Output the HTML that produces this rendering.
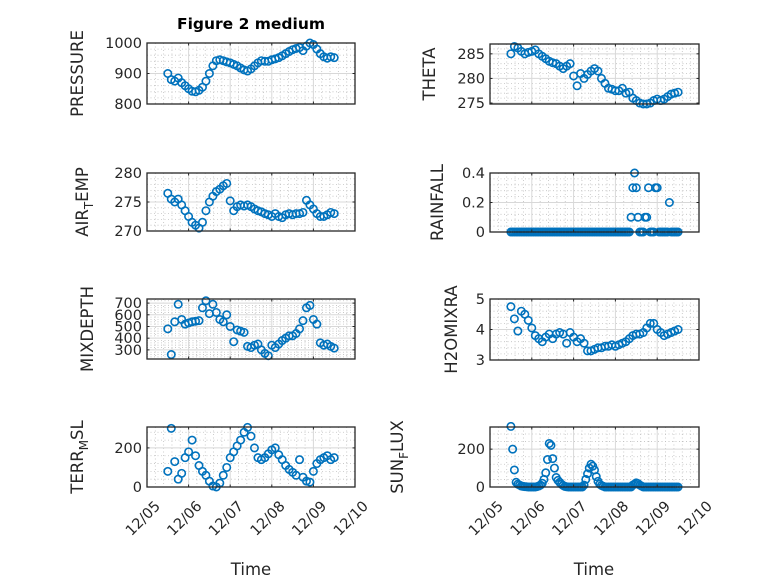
<!DOCTYPE html>
<html><head><meta charset="utf-8">
<style>
html,body{margin:0;padding:0;background:#fff;}
svg{display:block;font-family:"DejaVu Sans","Liberation Sans",sans-serif;}
</style></head>
<body>
<svg id="fig" width="778" height="583" viewBox="0 0 778 583" xmlns="http://www.w3.org/2000/svg">
<rect width="778" height="583" fill="#fff"/>
<text x="251" y="29" text-anchor="middle" font-size="15.5" font-weight="bold" fill="#000">Figure 2 medium</text>
<text x="251" y="575" text-anchor="middle" font-size="16.5" fill="#262626">Time</text>
<text x="594" y="575" text-anchor="middle" font-size="16.5" fill="#262626">Time</text>
</svg>
<script>
// time axis: 2-hour grid from 12/05 12:00 (day 5.5)
const gridStart = 5.5;
const gridStepDays = 1/12;
const hourlyStepDays = 1/24;
const xTickLabels = ["12/05","12/06","12/07","12/08","12/09","12/10"];
const xTickDays = [5,6,7,8,9,10];

const pressure = [900,880,875,885,870,860, 850,842,840,845,855,875,900,925,942,945,942,938, 935,930,925,918,912,908,915,925,935,942,940,940, 945,948,952,958,965,972,978,982,985,975,990,1000, 995,980,965,955,950,955, 952];
const airTemp = [276.5,275.5,275,275.5,274.5,273.5, 272.5,271.5,271,270.5,271.5,273.5,275,276,276.8,277.2,277.8,278.2, 275.2,273.5,274.2,274.5,274.3,274.5,274.2,273.8,273.5,273.3,273,272.8, 272.5,273,272.5,272.3,272.8,273,272.8,273,273,273.2,275.3,274.5, 273.8,273,272.5,272.5,272.8,273.2, 273];
const mixDepth = [480,260,540,690,560,520, 530,540,545,550,660,720,610,690,620,560,540,600, 500,370,470,460,450,330,320,340,350,300,270,250, 340,320,350,380,400,420,420,440,480,550,660,680, 560,520,360,340,350,330, 315];
const terrMsl = [80,300,130,40,70,150, 180,240,160,110,80,60,30,5,0,20,60,100, 150,180,210,240,280,305,260,200,150,140,150,170, 190,200,165,140,110,90,75,60,140,50,30,25, 80,120,140,150,160,140, 150];
const theta = [285,286.5,286.2,285.5,285,285.3, 285.5,285.8,285,284.5,284,283.5,283.2,283,282.5,282,282.5,283, 280.5,278.5,281,280,280.8,281.5,282,281.5,280,279,278,277.8, 277.5,277.5,278,277,277.2,276,275.5,275,274.8,274.8,275,275.5, 275.8,275.5,275.8,276.3,276.8,277, 277.2];
const h2o = [4.75,4.35,3.95,4.6,4.5,4.3, 4.05,3.8,3.7,3.6,3.75,3.85,3.7,3.85,3.9,3.85,3.55,3.9, 3.75,3.6,3.7,3.55,3.3,3.3,3.35,3.4,3.4,3.45,3.45,3.5, 3.45,3.5,3.55,3.6,3.7,3.8,3.85,3.85,3.9,4.05,4.2,4.2, 4.0,3.9,3.8,3.85,3.9,3.95, 4.0];
// hourly series
const rainfall = [0,0,0,0,0,0,0,0,0,0, 0,0,0,0,0,0,0,0,0,0, 0,0,0,0,0,0,0,0,0,0, 0,0,0,0,0,0,0,0,0,0, 0,0,0,0,0,0,0,0,0,0, 0,0,0,0,0,0,0,0,0,0, 0,0,0,0,0,0,0,0,0, 0.1,0.3,0.4,0.3,0.1,0,0,0,0.1,0.1,0.3,0,0,0,0.3,0.3,0,0,0,0,0,0,0.2,0,0,0,0,0];
const sunFlux = [320,200,90,25,15,10, 5,3,2,1,0,0, 0,0,0,2,5,10, 20,40,75,145,230,220, 150,100,50,35,25,15, 8,3,1,0,0,0, 0,0,0,0,0,0, 10,40,70,100,120,110, 90,55,30,15,8,4, 0,0,0,0,0,0,0,0,0,0,0,0, 0,0,0,0,10,15,22,18,10,5,0,0, 0,0,0,0,0,0,0,0,0,0,0,0,0,0,0,0,0,0,0];

const pressureTicks = [800,900,1000];
const airTicks = [270,275,280];
const mixTicks = [300,400,500,600,700];
const terrTicks = [0,200];
const thetaTicks = [275,280,285];
const rainTicks = [0,0.2,0.4];
const rainTickLabels = ["0","0.2","0.4"];
const h2oTicks = [3,4,5];
const sunTicks = [0,200];

const NS = "http://www.w3.org/2000/svg";
const svg = document.getElementById('fig');
function mk(tag, attrs, parent){
  const e = document.createElementNS(NS, tag);
  for (const k in attrs) e.setAttribute(k, attrs[k]);
  (parent||svg).appendChild(e);
  return e;
}

function panel(cfg){
  const {name,x0,x1,y0,y1,ymin,ymax,ticks,tickLabels,vals,step,bottom,labelX,label} = cfg;
  const g = mk('g',{});
  
  
  const xs = d => x0 + (d-5)/(10-5)*(x1-x0);
  const ys = v => y1 - (v-ymin)/(ymax-ymin)*(y1-y0);
  mk('rect',{x:x0,y:y0,width:x1-x0,height:y1-y0,fill:'#fff'},g);
  for (let d=5; d<10; d++){
    for (let m=1;m<5;m++){
      const x = xs(d+m/5);
      mk('line',{x1:x,x2:x,y1:y0,y2:y1,stroke:'#c0c0c0','stroke-width':0.8,'stroke-dasharray':'1 2.5'},g);
    }
  }
  const tstep = ticks.length>1 ? ticks[1]-ticks[0] : 100;
  const first = ticks[0] - tstep;
  for (let t=first; t<=ymax+1e-9; t+=tstep){
    for (let m=1;m<5;m++){
      const v = t + m*tstep/5;
      if (v<=ymin || v>=ymax) continue;
      const y = ys(v);
      mk('line',{x1:x0,x2:x1,y1:y,y2:y,stroke:'#c0c0c0','stroke-width':0.8,'stroke-dasharray':'1 2.5'},g);
    }
  }
  xTickDays.forEach(d=>{
    const x = xs(d);
    mk('line',{x1:x,x2:x,y1:y0,y2:y1,stroke:'#d8d8d8','stroke-width':1},g);
  });
  ticks.forEach((t,i)=>{
    const y = ys(t);
    mk('line',{x1:x0,x2:x1,y1:y,y2:y,stroke:'#d8d8d8','stroke-width':1},g);
    const tl = mk('text',{x:x0-5,y:y+5,'text-anchor':'end','font-size':14.5,fill:'#262626'},g);
    tl.textContent = tickLabels ? tickLabels[i] : String(t);
    
    
  });
  const clipId = name+'-clip';
  const cp = mk('clipPath',{id:clipId},g);
  mk('rect',{x:x0-5,y:y0-5,width:x1-x0+10,height:y1-y0+10},cp);
  const mg = mk('g',{'clip-path':'url(#'+clipId+')'},g);
  vals.forEach((v,i)=>{
    const d = gridStart + i*step;
    const c = mk('circle',{cx:xs(d),cy:ys(v),r:3.7,fill:'none',stroke:'#0072BD','stroke-width':1.6},mg);
    
    
  });
  mk('rect',{x:x0,y:y0,width:x1-x0,height:y1-y0,fill:'none',stroke:'#262626','stroke-width':1.3},g);
  xTickDays.forEach(d=>{
    const x = xs(d);
    mk('line',{x1:x,x2:x,y1:y1,y2:y1-2.5,stroke:'#262626','stroke-width':1},g);
    mk('line',{x1:x,x2:x,y1:y0,y2:y0+2.5,stroke:'#262626','stroke-width':1},g);
  });
  ticks.forEach(t=>{
    const y = ys(t);
    mk('line',{x1:x0,x2:x0+2.5,y1:y,y2:y,stroke:'#262626','stroke-width':1},g);
    mk('line',{x1:x1,x2:x1-2.5,y1:y,y2:y,stroke:'#262626','stroke-width':1},g);
  });
  if (bottom){
    xTickDays.forEach((d,i)=>{
      const x = xs(d)+14, y = y1+20;
      const t = mk('text',{x:x,y:y,'text-anchor':'end','font-size':14.5,fill:'#262626',transform:'rotate(-45 '+x+' '+y+')'},g);
      t.textContent = xTickLabels[i];
      
      
    });
  }
  const cy = (y0+y1)/2;
  const yl = mk('text',{x:labelX,y:cy,'text-anchor':'middle','font-size':16.5,fill:'#262626',transform:'rotate(-90 '+labelX+' '+cy+')'},g);
  
  
  label.forEach(part=>{
    const ts = document.createElementNS(NS,'tspan');
    ts.textContent = part.t;
    if (part.sub){ ts.setAttribute('dy','5'); ts.setAttribute('font-size','12'); }
    else if (part.after){ ts.setAttribute('dy','-5'); }
    yl.appendChild(ts);
  });
}

const L0=147, L1=355, R0=490, R1=699;
panel({name:'pressure',x0:L0,x1:L1,y0:43,y1:104,ymin:800,ymax:1000,ticks:pressureTicks,vals:pressure,step:gridStepDays,labelX:83,label:[{t:'PRESSURE'}]});
panel({name:'air-temp',x0:L0,x1:L1,y0:173,y1:231,ymin:270,ymax:280,ticks:airTicks,vals:airTemp,step:gridStepDays,labelX:88,label:[{t:'AIR'},{t:'T',sub:true},{t:'EMP',after:true}]});
panel({name:'mixdepth',x0:L0,x1:L1,y0:299,y1:359,ymin:222,ymax:735,ticks:mixTicks,vals:mixDepth,step:gridStepDays,labelX:93,label:[{t:'MIXDEPTH'}]});
panel({name:'terr-msl',x0:L0,x1:L1,y0:427,y1:487,ymin:0,ymax:307,ticks:terrTicks,vals:terrMsl,step:gridStepDays,bottom:true,labelX:83,label:[{t:'TERR'},{t:'M',sub:true},{t:'SL',after:true}]});
panel({name:'theta',x0:R0,x1:R1,y0:44,y1:104,ymin:274.8,ymax:287,ticks:thetaTicks,vals:theta,step:gridStepDays,labelX:435,label:[{t:'THETA'}]});
panel({name:'rainfall',x0:R0,x1:R1,y0:173,y1:232,ymin:0,ymax:0.4,ticks:rainTicks,tickLabels:rainTickLabels,vals:rainfall,step:hourlyStepDays,labelX:443,label:[{t:'RAINFALL'}]});
panel({name:'h2omixra',x0:R0,x1:R1,y0:299,y1:360,ymin:3,ymax:5,ticks:h2oTicks,vals:h2o,step:gridStepDays,labelX:457,label:[{t:'H2OMIXRA'}]});
panel({name:'sun-flux',x0:R0,x1:R1,y0:427,y1:487,ymin:0,ymax:317,ticks:sunTicks,vals:sunFlux,step:hourlyStepDays,bottom:true,labelX:403,label:[{t:'SUN'},{t:'F',sub:true},{t:'LUX',after:true}]});
</script>
</body></html>
